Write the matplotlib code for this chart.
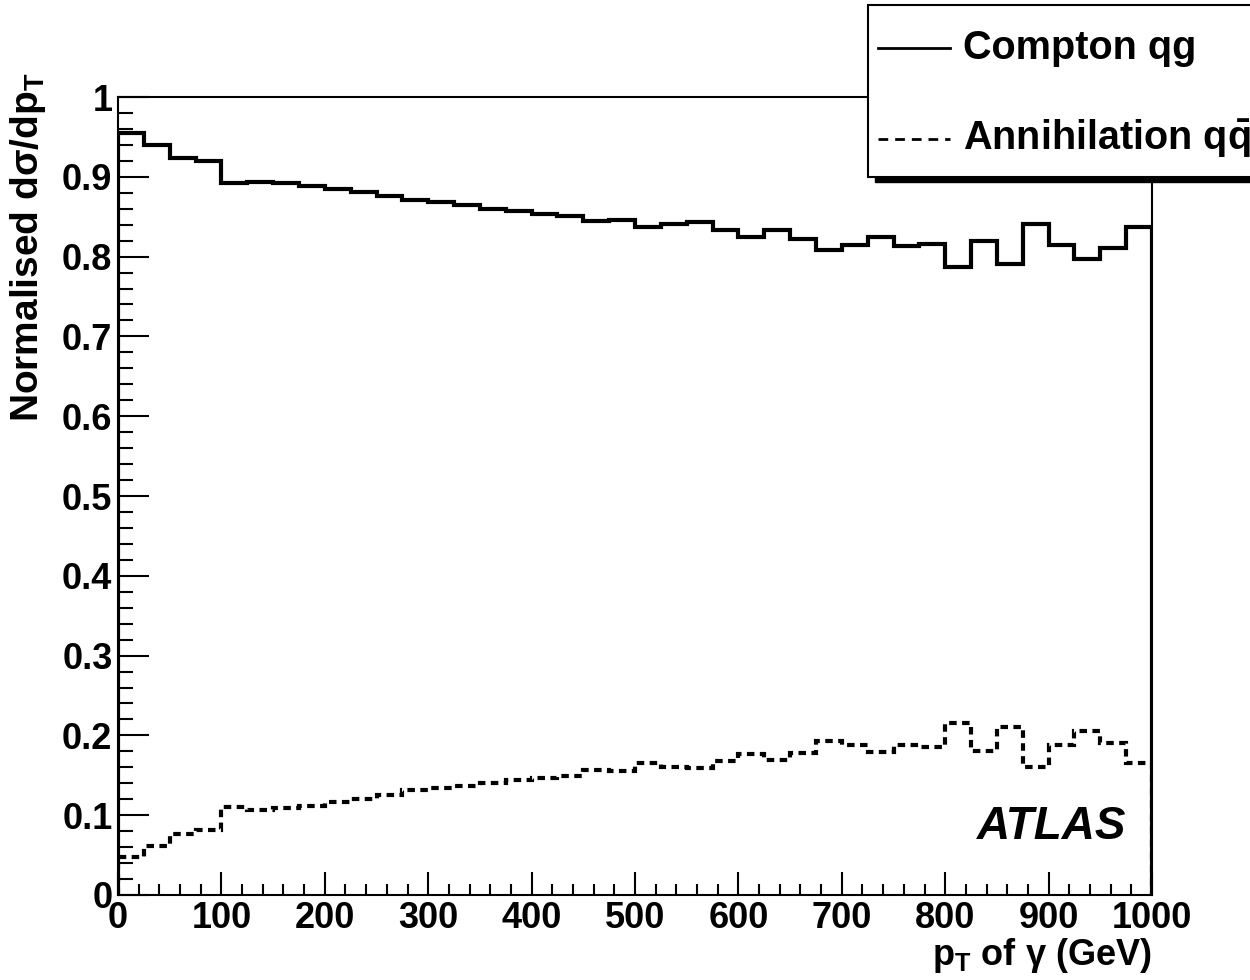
import numpy as np
import matplotlib
matplotlib.use('Agg')
import matplotlib.pyplot as plt
from matplotlib.patches import Rectangle
from matplotlib.lines import Line2D
from matplotlib.ticker import MultipleLocator, FixedLocator, FixedFormatter

# photon pT binning: 40 bins of 25 GeV
edges = np.arange(0, 1001, 25)

compton = [0.955, 0.940, 0.923, 0.920, 0.892, 0.894, 0.892, 0.888, 0.885, 0.881,
           0.876, 0.871, 0.869, 0.865, 0.860, 0.857, 0.854, 0.851, 0.844, 0.846,
           0.837, 0.841, 0.843, 0.833, 0.824, 0.833, 0.822, 0.808, 0.814, 0.824,
           0.813, 0.816, 0.787, 0.820, 0.791, 0.841, 0.814, 0.797, 0.811, 0.837]

annihilation = [0.047, 0.0615, 0.077, 0.081, 0.110, 0.107, 0.109, 0.112, 0.116, 0.120,
                0.125, 0.131, 0.134, 0.136, 0.140, 0.144, 0.147, 0.149, 0.157, 0.155,
                0.165, 0.160, 0.159, 0.168, 0.177, 0.169, 0.178, 0.193, 0.188, 0.179,
                0.188, 0.186, 0.215, 0.181, 0.211, 0.160, 0.188, 0.205, 0.190, 0.165]

ytick_vals = [0, 0.1, 0.2, 0.3, 0.4, 0.5, 0.6, 0.7, 0.8, 0.9, 1.0]
ytick_labels = ['0', '0.1', '0.2', '0.3', '0.4', '0.5', '0.6', '0.7', '0.8', '0.9', '1']

plt.rcParams['font.family'] = ['Liberation Sans', 'DejaVu Sans']
plt.rcParams['font.weight'] = 'bold'
plt.rcParams['mathtext.fontset'] = 'custom'
plt.rcParams['mathtext.rm'] = 'Liberation Sans:bold'
plt.rcParams['mathtext.it'] = 'Liberation Sans:bold:italic'
plt.rcParams['mathtext.bf'] = 'Liberation Sans:bold'

W, H = 1250, 980
fig = plt.figure(figsize=(W / 100, H / 100), dpi=100)
ax = fig.add_axes([118 / W, 1 - 895 / H, (1152 - 118) / W, (895 - 97) / H])

ax.stairs(compton, edges, color='black', lw=3.0)
ax.stairs(annihilation, edges, color='black', lw=3.0, linestyle=(0, (1.8, 1.3)))

ax.set_xlim(0, 1000)
ax.set_ylim(0, 1)

for sp in ax.spines.values():
    sp.set_linewidth(1.5)

ax.xaxis.set_major_locator(MultipleLocator(100))
ax.xaxis.set_minor_locator(MultipleLocator(20))
ax.yaxis.set_major_locator(FixedLocator(ytick_vals))
ax.yaxis.set_major_formatter(FixedFormatter(ytick_labels))
ax.yaxis.set_minor_locator(MultipleLocator(0.02))

ax.tick_params(axis='x', which='major', direction='in', length=16.5, width=1.5,
               labelsize=26, pad=4)
ax.tick_params(axis='x', which='minor', direction='in', length=8, width=1.5)
ax.tick_params(axis='y', which='major', direction='in', length=22, width=1.5,
               labelsize=26, pad=4)
ax.tick_params(axis='y', which='minor', direction='in', length=11, width=1.5)
for lab in ax.get_xticklabels() + ax.get_yticklabels():
    lab.set_fontweight('bold')

fig.text(1152 / W, 1 - 936 / H, r'p$_{\rm T}$ of γ (GeV)', ha='right', va='top',
         fontsize=26, fontweight='bold')
fig.text(28 / W, 1 - 72 / H, r'Normalised dσ/dp$_{\rm T}$', ha='center', va='top',
         rotation=90, fontsize=28, fontweight='bold')

ax.text(0.975, 0.085, 'ATLAS', transform=ax.transAxes, ha='right', va='center',
        fontsize=33, fontweight='bold', fontstyle='italic')

# legend box (runs off the right edge), with a drop shadow
bx, by, bw, bh = 868, 5, 500, 172
fig.add_artist(Rectangle(((bx + 7) / W, 1 - (by + bh + 5) / H), bw / W, bh / H,
                         transform=fig.transFigure, facecolor='black',
                         edgecolor='black', zorder=4))
fig.add_artist(Rectangle((bx / W, 1 - (by + bh) / H), bw / W, bh / H,
                         transform=fig.transFigure, facecolor='white',
                         edgecolor='black', lw=1.5, zorder=5))
fig.add_artist(Line2D([878 / W, 950 / W], [1 - 48 / H, 1 - 48 / H],
                      transform=fig.transFigure, color='black', lw=2, zorder=6))
fig.add_artist(Line2D([878 / W, 950 / W], [1 - 139 / H, 1 - 139 / H],
                      transform=fig.transFigure, color='black', lw=2,
                      linestyle=(0, (3.5, 2.5)), zorder=6))
fig.text(963 / W, 1 - 48 / H, 'Compton qg', ha='left', va='center',
         fontsize=28.5, fontweight='bold', zorder=7)
fig.text(963 / W, 1 - 139 / H, r'Annihilation q$\bar{\rm q}$', ha='left', va='center',
         fontsize=28.5, fontweight='bold', zorder=7)

fig.savefig('out.png', dpi=100)
